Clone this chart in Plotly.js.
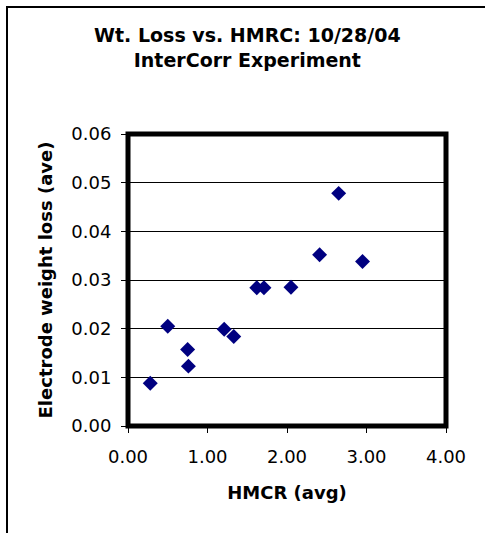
<!DOCTYPE html>
<html>
<head>
<meta charset="utf-8">
<script src="https://cdn.plot.ly/plotly-3.0.1.min.js"></script>
<style>html,body{margin:0;padding:0;background:#fff;}#chart{width:485px;height:533px;}</style>
</head>
<body>
<div id="chart"></div>
<script>
const hmcr = [0.28, 0.50, 0.75, 0.76, 1.21, 1.33, 1.62, 1.71, 2.05, 2.41, 2.65, 2.95];
const wtLoss = [0.0088, 0.0205, 0.0157, 0.0123, 0.0199, 0.0184, 0.0284, 0.0284, 0.0285, 0.0352, 0.0478, 0.0338];
const titleText = 'Wt. Loss vs. HMRC: 10/28/04<br>InterCorr Experiment';
const xTitle = 'HMCR (avg)';
const yTitle = 'Electrode weight loss (ave)';

const W = 485, H = 533;
const m = {l: 128, r: 39, t: 134, b: 107};
const pw = W - m.l - m.r, ph = H - m.t - m.b;
const px = v => (v - m.l) / pw;
const py = v => (H - m.b - v) / ph;

const font = '"DejaVu Sans", Arial, sans-serif';

Plotly.newPlot('chart', [{
  type: 'scatter', mode: 'markers',
  x: hmcr, y: wtLoss,
  marker: {symbol: 'diamond', size: 11.5, color: '#000080', line: {width: 0}},
  hoverinfo: 'skip'
}], {
  width: W, height: H,
  margin: m,
  paper_bgcolor: '#fff', plot_bgcolor: '#fff',
  showlegend: false,
  font: {family: font, color: '#000'},
  title: {
    text: titleText,
    font: {family: font, size: 19, color: '#000', weight: 'bold'},
    x: 0.51, xanchor: 'center', xref: 'container',
    y: 1 - 42 / H, yanchor: 'top', yref: 'container'
  },
  xaxis: {
    range: [0, 4], dtick: 1, tick0: 0, tickformat: '.2f',
    showgrid: false, zeroline: false, showline: false,
    ticks: 'outside', ticklen: 6, tickwidth: 1, tickcolor: '#000',
    ticklabelstandoff: 8,
    tickfont: {family: font, size: 18, color: '#000'},
    title: {text: xTitle, font: {family: font, size: 18, color: '#000', weight: 'bold'}, standoff: 20}
  },
  yaxis: {
    range: [0, 0.06], dtick: 0.01, tick0: 0, tickformat: '.2f',
    showgrid: true, gridcolor: '#000', gridwidth: 1,
    zeroline: false, showline: false,
    ticks: 'outside', ticklen: 6, tickwidth: 1, tickcolor: '#000',
    ticklabelstandoff: 6,
    tickfont: {family: font, size: 18, color: '#000'},
    title: {text: yTitle, font: {family: font, size: 18, color: '#000', weight: 'bold'}, standoff: 14}
  },
  shapes: [
    {type: 'rect', xref: 'paper', yref: 'paper', x0: 0, x1: 1, y0: 0, y1: 1,
     line: {color: '#000', width: 5}, layer: 'above'},
    {type: 'line', xref: 'paper', yref: 'paper', x0: px(6), x1: px(490), y0: py(7), y1: py(7),
     line: {color: '#000', width: 2}, layer: 'above'},
    {type: 'line', xref: 'paper', yref: 'paper', x0: px(7), x1: px(7), y0: py(6), y1: py(540),
     line: {color: '#000', width: 2}, layer: 'above'}
  ]
}, {staticPlot: true});
</script>
</body>
</html>
